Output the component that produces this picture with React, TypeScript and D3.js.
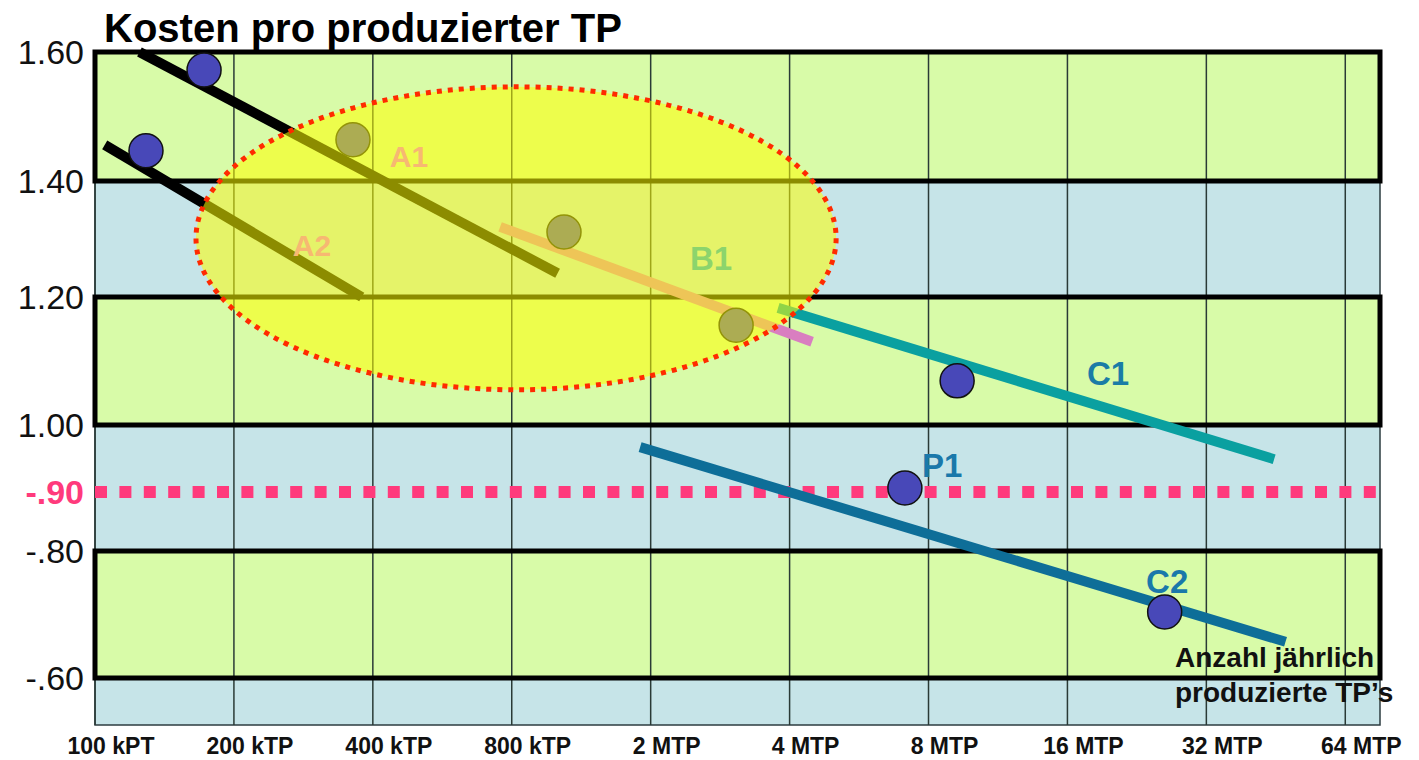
import * as d3 from 'd3'
import { useEffect, useRef } from 'react'

// x axis: annual volume, one step per doubling
const volumeLabels = [
  '100 kPT',
  '200 kTP',
  '400 kTP',
  '800 kTP',
  '2 MTP',
  '4 MTP',
  '8 MTP',
  '16 MTP',
  '32 MTP',
  '64 MTP',
]

// y axis: cost per produced TP (uneven spacing in the original)
const costTicks = [1.6, 1.4, 1.2, 1.0, 0.9, 0.8, 0.6]
const costTickLabels = ['1.60', '1.40', '1.20', '1.00', '-.90', '-.80', '-.60']
const costBands = [
  [1.6, 1.4],
  [1.2, 1.0],
  [0.8, 0.6],
]
const targetCost = 0.9

// trend lines [volume step, cost]
const trendA1 = [[0.32, 1.6], [3.33, 1.241]]
const trendA2 = [[0.07, 1.456], [1.92, 1.2]]
const trendB1 = [[2.916, 1.321], [5.162, 1.13]]
const trendC1 = [[4.917, 1.183], [8.488, 0.949]]
const trendC2 = [[3.924, 0.967], [8.57, 0.657]]

// product points [volume step, cost]
const products = [
  [0.785, 1.572],
  [0.367, 1.447],
  [1.857, 1.464],
  [3.376, 1.312],
  [4.615, 1.156],
  [6.206, 1.069],
  [5.83, 0.906],
  [7.7, 0.704],
]

const labelNames = ['A1', 'A2', 'B1', 'C1', 'P1', 'C2']
const labelPoints = [
  [2.26, 1.422],
  [1.562, 1.271],
  [4.435, 1.247],
  [7.293, 1.0625],
  [6.098, 0.922],
  [7.718, 0.734],
]

// highlighted region (bounding box of the ellipse)
const focusArea = [
  [0.727, 1.546],
  [5.335, 1.055],
]

export default function App() {
  const svgRef = useRef<SVGSVGElement>(null)

  useEffect(() => {
    if (!svgRef.current) return
    document.body.style.margin = '0'
    d3.select(svgRef.current).selectAll('*').remove()

    const width = 1419
    const height = 760
    const left = 95
    const right = 1380
    const bottom = 725
    const font = "'Liberation Sans', Arial, sans-serif"

    const svg = d3
      .select(svgRef.current)
      .attr('width', width)
      .attr('height', height)
      .style('background', '#fff')
      .style('font-family', font)

    const x = d3.scaleLinear().domain([0, 9.25]).range([left, right])
    const y = d3
      .scaleLinear()
      .domain(costTicks)
      .range([52, 181, 297, 425, 492, 551, 678])

    // background
    svg
      .append('rect')
      .attr('x', left)
      .attr('y', y(1.6))
      .attr('width', right - left)
      .attr('height', bottom - y(1.6))
      .attr('fill', '#c6e4e8')
      .attr('stroke', '#2c3c40')
      .attr('stroke-width', 1.5)

    // green bands
    svg
      .selectAll('.band')
      .data(costBands)
      .enter()
      .append('rect')
      .attr('x', left)
      .attr('y', d => y(d[0]))
      .attr('width', right - left)
      .attr('height', d => y(d[1]) - y(d[0]))
      .attr('fill', '#d8fba8')

    // vertical grid
    svg
      .selectAll('.grid')
      .data(volumeLabels)
      .enter()
      .append('line')
      .attr('x1', (d, i) => x(i))
      .attr('x2', (d, i) => x(i))
      .attr('y1', y(1.6))
      .attr('y2', bottom)
      .attr('stroke', '#2a3a36')
      .attr('stroke-width', 1.5)

    // band borders
    svg
      .selectAll('.bandBorder')
      .data(costBands)
      .enter()
      .append('rect')
      .attr('x', left)
      .attr('y', d => y(d[0]))
      .attr('width', right - left)
      .attr('height', d => y(d[1]) - y(d[0]))
      .attr('fill', 'none')
      .attr('stroke', '#000')
      .attr('stroke-width', 5)

    // target cost line
    svg
      .append('line')
      .attr('x1', left)
      .attr('x2', right)
      .attr('y1', y(targetCost))
      .attr('y2', y(targetCost))
      .attr('stroke', '#ff3a7c')
      .attr('stroke-width', 12)
      .attr('stroke-dasharray', '12,12.4')

    // trend lines
    const line = d3
      .line<number[]>()
      .x(d => x(d[0]))
      .y(d => y(d[1]))
    const trends = [trendA1, trendA2, trendB1, trendC1, trendC2]
    const trendColors = ['#000', '#000', '#d97ec0', '#0aa0a0', '#0e6e98']
    trends.forEach((t, i) => {
      svg
        .append('path')
        .attr('d', line(t))
        .attr('fill', 'none')
        .attr('stroke', trendColors[i])
        .attr('stroke-width', 10)
    })

    // products
    svg
      .selectAll('.product')
      .data(products)
      .enter()
      .append('circle')
      .attr('cx', d => x(d[0]))
      .attr('cy', d => y(d[1]))
      .attr('r', 17)
      .attr('fill', '#4848b8')
      .attr('stroke', '#111')
      .attr('stroke-width', 1.5)

    // focus ellipse
    const ex0 = x(focusArea[0][0])
    const ex1 = x(focusArea[1][0])
    const ey0 = y(focusArea[0][1])
    const ey1 = y(focusArea[1][1])
    svg
      .append('ellipse')
      .attr('cx', (ex0 + ex1) / 2)
      .attr('cy', (ey0 + ey1) / 2)
      .attr('rx', (ex1 - ex0) / 2)
      .attr('ry', (ey1 - ey0) / 2)
      .attr('fill', '#ffff00')
      .attr('fill-opacity', 0.55)
      .attr('stroke', '#ff2a00')
      .attr('stroke-width', 5)
      .attr('stroke-dasharray', '5,6')

    // series labels
    const labelColors = ['#f7b872', '#f7b872', '#8cd46c', '#1a7ca6', '#1a78aa', '#1a78aa']
    svg
      .selectAll('.seriesLabel')
      .data(labelNames)
      .enter()
      .append('text')
      .attr('x', (d, i) => x(labelPoints[i][0]))
      .attr('y', (d, i) => y(labelPoints[i][1]))
      .attr('text-anchor', 'middle')
      .style('font-size', (d, i) => (i < 2 ? '30px' : '33px'))
      .style('font-weight', 'bold')
      .style('fill', (d, i) => labelColors[i])
      .text(d => d)

    // y labels
    svg
      .selectAll('.yLabel')
      .data(costTicks)
      .enter()
      .append('text')
      .attr('x', 84)
      .attr('y', d => y(d) + 12)
      .attr('text-anchor', 'end')
      .style('font-size', '34px')
      .style('font-weight', d => (d === targetCost ? 'bold' : 'normal'))
      .style('fill', d => (d === targetCost ? '#ff3a7c' : '#111'))
      .text((d, i) => costTickLabels[i])

    // x labels
    svg
      .selectAll('.xLabel')
      .data(volumeLabels)
      .enter()
      .append('text')
      .attr('x', (d, i) => x(i) + 16)
      .attr('y', 754)
      .attr('text-anchor', 'middle')
      .style('font-size', '23px')
      .style('font-weight', 'bold')
      .style('fill', '#111')
      .text(d => d)

    // axis title
    const axisTitle = svg
      .append('text')
      .style('font-size', '28px')
      .style('font-weight', 'bold')
      .style('fill', '#111')
    axisTitle.append('tspan').attr('x', 1175).attr('y', 667).text('Anzahl jährlich')
    axisTitle.append('tspan').attr('x', 1175).attr('y', 702).text('produzierte TP’s')

    // chart title
    svg
      .append('text')
      .attr('x', 104)
      .attr('y', 42)
      .style('font-size', '40px')
      .style('font-weight', 'bold')
      .style('fill', '#000')
      .text('Kosten pro produzierter TP')
  }, [])

  return <svg ref={svgRef} style={{ display: 'block' }}></svg>
}
